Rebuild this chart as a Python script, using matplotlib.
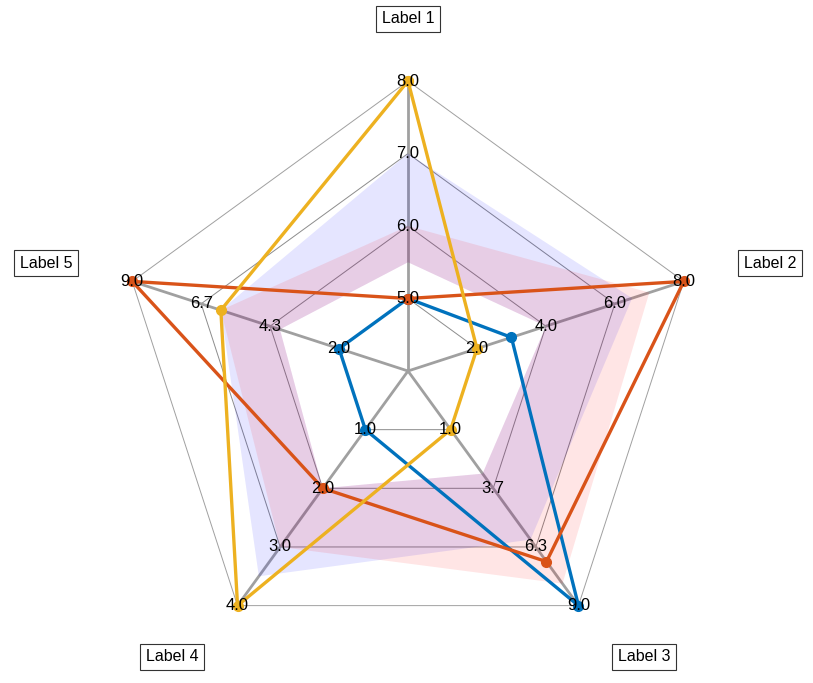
import numpy as np
import matplotlib
matplotlib.use("Agg")
import matplotlib.pyplot as plt

labels = ["Label 1", "Label 2", "Label 3", "Label 4", "Label 5"]
d1 = [5, 3, 9, 1, 2]
d2 = [5, 8, 7, 2, 9]
d3 = [8, 2, 1, 4, 6]
series = [d1, d2, d3]
colors = ["#0072BD", "#D95319", "#EDB120"]

axes_min = [5, 2, 1, 1, 2]
axes_max = [8, 8, 9, 4, 9]

shade_blue = [[5.5, 4, 3, 2, 4], [7, 6.5, 6, 3.5, 6]]
shade_red = [[5.5, 4, 3, 2, 4], [6, 7, 8, 3, 6]]
n_rings = 4

n = len(labels)
ang = np.deg2rad(90 - 72 * np.arange(n))
ux, uy = np.cos(ang), np.sin(ang)


def to_r(vals):
    vals = np.asarray(vals, float)
    lo, hi = np.array(axes_min), np.array(axes_max)
    return (1 + (vals - lo) / (hi - lo) * (n_rings - 1)) / n_rings


def xy(vals):
    r = to_r(vals)
    return r * ux, r * uy


fig = plt.figure(figsize=(8.13, 6.83), dpi=100)
ax = fig.add_axes([0, 0, 1, 1])
R = 290.0
cx, cy = 408.0, 312.0  # center in px from bottom-left
ax.set_xlim(-cx / R, (813 - cx) / R)
ax.set_ylim(-cy / R, (683 - cy) / R)
ax.axis("off")

# web rings
for k in range(1, n_rings + 1):
    r = k / n_rings
    px = np.append(r * ux, r * ux[0])
    py = np.append(r * uy, r * uy[0])
    ax.plot(px, py, color="#a0a0a0" if k == n_rings else "#8c8c8c",
            lw=0.7, zorder=1)

# spokes
for i in range(n):
    ax.plot([0, ux[i]], [0, uy[i]], color="#a0a0a0", lw=2, zorder=1)

# shaded bands
for lims, col in [(shade_blue, "blue"), (shade_red, "red")]:
    ix, iy = xy(lims[0])
    ox, oy = xy(lims[1])
    px = np.concatenate([ox, ox[:1], ix[:1], ix[::-1]])
    py = np.concatenate([oy, oy[:1], iy[:1], iy[::-1]])
    ax.fill(px, py, color=col, alpha=0.1, lw=0, zorder=2)

# data
for d, c in zip(series, colors):
    x, y = xy(d)
    ax.plot(np.append(x, x[0]), np.append(y, y[0]), color=c, lw=2.4,
            marker="o", ms=7, zorder=3)

# axis tick labels
for i in range(n):
    ticks = np.linspace(axes_min[i], axes_max[i], n_rings)
    for k, t in enumerate(ticks):
        r = (k + 1) / n_rings
        ax.text(r * ux[i], r * uy[i], f"{t:.1f}", ha="center", va="center",
                fontsize=12, family="Liberation Sans", zorder=5)

# axis labels
label_pos = [(0, 1.215), (1.248, 0.372), (0.814, -0.986),
             (-0.814, -0.986), (-1.248, 0.372)]
for lab, (lx, ly) in zip(labels, label_pos):
    ax.text(lx, ly, lab, ha="center", va="center", fontsize=11.5,
            family="Liberation Sans", zorder=5,
            bbox=dict(boxstyle="square,pad=0.35", fc="white", ec="#333333",
                      lw=0.8))

fig.savefig("out.png", dpi=100)
